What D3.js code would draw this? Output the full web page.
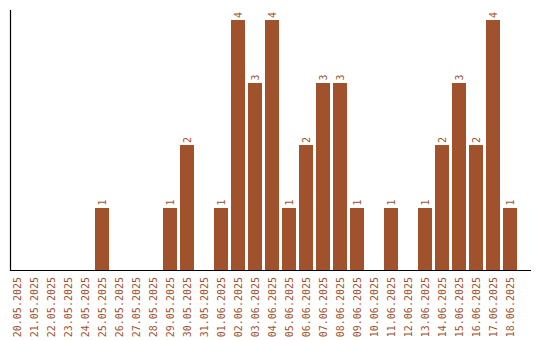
<!DOCTYPE html>
<html>
<head>
<meta charset="utf-8">
<script src="https://cdn.jsdelivr.net/npm/d3@7"></script>
<style>
  body { margin: 0; background: #fff; }
  text { font-family: "DejaVu Sans Mono", monospace; font-size: 10px; fill: #a0522d; }
</style>
</head>
<body>
<script>
'use strict';

var dates = [
  '20.05.2025', '21.05.2025', '22.05.2025', '23.05.2025', '24.05.2025',
  '25.05.2025', '26.05.2025', '27.05.2025', '28.05.2025', '29.05.2025',
  '30.05.2025', '31.05.2025', '01.06.2025', '02.06.2025', '03.06.2025',
  '04.06.2025', '05.06.2025', '06.06.2025', '07.06.2025', '08.06.2025',
  '09.06.2025', '10.06.2025', '11.06.2025', '12.06.2025', '13.06.2025',
  '14.06.2025', '15.06.2025', '16.06.2025', '17.06.2025', '18.06.2025'
];
var counts = [0, 0, 0, 0, 0, 1, 0, 0, 0, 1,
              2, 0, 1, 4, 3, 4, 1, 2, 3, 3,
              1, 0, 1, 0, 1, 2, 3, 2, 4, 1];

var width = 540,
    height = 340,
    color = '#a0522d';

var svg = d3.select('body').append('svg')
    .attr('width', width)
    .attr('height', height);

var x = d3.scaleBand()
    .domain(dates)
    .range([7, 520])
    .padding(3 / 17);

var y = d3.scaleLinear()
    .domain([0, 4])
    .range([270, 20]);

var data = dates.map(function (d, i) { return { date: d, value: counts[i] }; });

// bars
svg.selectAll('rect.bar')
    .data(data.filter(function (d) { return d.value > 0; }))
  .enter().append('rect')
    .attr('class', 'bar')
    .attr('x', function (d) { return x(d.date); })
    .attr('y', function (d) { return y(d.value); })
    .attr('width', x.bandwidth())
    .attr('height', function (d) { return y(0) - y(d.value); })
    .attr('fill', color)
    .attr('shape-rendering', 'crispEdges');

// value labels
svg.selectAll('text.val')
    .data(data.filter(function (d) { return d.value > 0; }))
  .enter().append('text')
    .attr('class', 'val')
    .attr('transform', function (d) {
      return 'translate(' + (x(d.date) + x.bandwidth() / 2) + ',' + (y(d.value) - 2) + ') rotate(-90)';
    })
    .attr('dy', '0.35em')
    .attr('text-anchor', 'start')
    .text(function (d) { return d.value; });

// date labels
svg.selectAll('text.date')
    .data(dates)
  .enter().append('text')
    .attr('class', 'date')
    .attr('transform', function (d) {
      return 'translate(' + (x(d) + x.bandwidth() / 2) + ',277) rotate(-90)';
    })
    .attr('dy', '0.35em')
    .attr('text-anchor', 'end')
    .text(function (d) { return d; });

// axis lines
svg.append('line')
    .attr('x1', 10.5).attr('x2', 10.5)
    .attr('y1', 10).attr('y2', 270.5)
    .attr('stroke', '#000')
    .attr('stroke-width', 1.2);

svg.append('line')
    .attr('x1', 10).attr('x2', 531)
    .attr('y1', 270.5).attr('y2', 270.5)
    .attr('stroke', '#000')
    .attr('stroke-width', 1.2);
</script>
</body>
</html>
